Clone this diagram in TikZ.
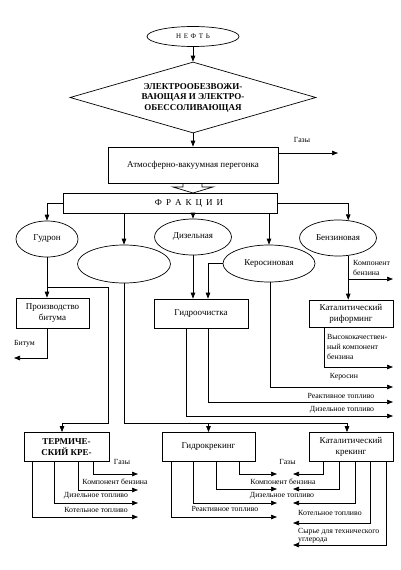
\documentclass[tikz,border=0pt]{standalone}
\usepackage{fontspec}
\setmainfont{Liberation Serif}
\usetikzlibrary{shapes.geometric,arrows.meta}
\begin{document}
\begin{tikzpicture}[x=1pt,y=-1pt,
  every node/.style={inner sep=0pt, font=\fontsize{9}{11}\selectfont},
  box/.style={draw, rectangle, line width=0.7pt, align=center},
  oval/.style={draw, ellipse, line width=0.7pt},
  conn/.style={line width=0.7pt},
  arr/.style={conn, -{Triangle[length=6pt,width=4.5pt]}},
  lbl/.style={font=\fontsize{7.8}{10}\selectfont, align=left},
  bold/.style={font=\bfseries\fontsize{9}{10.5}\selectfont},
]
\useasboundingbox (0,0) rectangle (400,570);
\fill[white] (0,0) rectangle (400,570);

% top
\node[oval, minimum width=92pt, minimum height=20pt, font=\fontsize{7}{8}\selectfont] (neft) at (193,36.5) {Н\hspace{2.6pt}Е\hspace{2.6pt}Ф\hspace{2.6pt}Т\hspace{2.6pt}Ь};
\node[draw, diamond, aspect=3.46, minimum width=246pt, minimum height=71pt, line width=0.7pt, align=center, bold] (dia) at (193,97.5) {ЭЛЕКТРООБЕЗВОЖИ-\\ВАЮЩАЯ И ЭЛЕКТРО-\\ОБЕССОЛИВАЮЩАЯ};
\draw[arr] (neft.south) -- (dia.north);

\node[box, minimum width=170pt, minimum height=36pt] (atm) at (193,165) {Атмосферно-вакуумная перегонка};
\draw[arr] (dia.south) -- (atm.north);
\coordinate (oGas) at (338,153);
\draw[arr] (atm.east |- oGas) -- (oGas);
\node[lbl] (lGas) at (302,140) {Газы};

% hollow arrow
\draw[conn] (183,183) -- (183,187) -- (173,187) -- (193,193) -- (213,187) -- (202,187) -- (202,183);

\node[box, minimum width=214pt, minimum height=20pt] (fr) at (170,203) {};
\node (frt) at (189,203) {Ф\hspace{4pt}Р\hspace{4pt}А\hspace{4pt}К\hspace{4pt}Ц\hspace{4pt}И\hspace{4pt}И};

% fractions
\node[oval, minimum width=62pt, minimum height=36pt] (gud) at (47,239) {Гудрон};
\node[oval, minimum width=77pt, minimum height=36pt] (diz) at (193,237) {Дизельная};
\node[oval, minimum width=77pt, minimum height=36pt] (benz) at (338,238) {Бензиновая};
\node[oval, minimum width=93pt, minimum height=38pt] (emp) at (124,264) {};
\node[oval, minimum width=92pt, minimum height=37pt] (ker) at (269,263.5) {Керосиновая};

\draw[arr] (fr.west) -| (gud.north);
\draw[arr] (fr.east) -| (benz.60);
\draw[arr] (emp.north |- fr.south) -- (emp.north);
\draw[arr] (diz.north |- fr.south) -- (diz.north);
\draw[arr] (ker.north |- fr.south) -- (ker.north);

% second level boxes
\node[box, minimum width=73pt, minimum height=30pt] (bit) at (52.5,313) {Производство\\битума};
\node[box, minimum width=94pt, minimum height=29pt] (gid) at (201,313.5) {Гидроочистка};
\node[box, minimum width=84pt, minimum height=27pt] (kr) at (351,313.5) {Каталитический\\риформинг};

\draw[arr] (gud.south) -- (gud.south |- bit.north);
\coordinate (oBit) at (14,358);
\draw[arr] (bit.south -| gud.south) |- (oBit);
\node[lbl] (lBit) at (24.5,344) {Битум};

\draw[arr] (diz.south) -- (diz.south |- gid.north);
\coordinate (kx) at (208,0);
\draw[arr] (ker.west) -| (gid.north -| kx);

\draw[arr] (benz.-60) -- (benz.-60 |- kr.north);
\coordinate (oBenz) at (393,279);
\draw[arr] (benz.-60 |- oBenz) -- (oBenz);
\node[lbl, anchor=west] (lBenz) at (353,267.5) {Компонент\\бензина};

\coordinate (oVys) at (393,367);
\draw[arr] (kr.south -| 324,0) |- (oVys);
\node[lbl, anchor=west] (lVys) at (327,347) {Высококачествен-\\ный компонент\\бензина};

\coordinate (oKer) at (393,387);
\draw[arr] (ker.south -| 270,0) |- (oKer);
\node[lbl] (lKer) at (344,377) {Керосин};

\coordinate (oRea) at (393,402);
\draw[arr] (gid.south -| kx) |- (oRea);
\node[lbl] (lRea) at (341,396) {Реактивное топливо};

\coordinate (oDiz) at (393,416);
\draw[arr] (gid.south -| 186,0) |- (oDiz);
\node[lbl] (lDiz) at (342,409.5) {Дизельное топливо};

% third level
\node[box, minimum width=85pt, minimum height=29pt, bold] (term) at (66.5,447) {ТЕРМИЧЕ-\\СКИЙ КРЕ-};
\node[box, minimum width=93pt, minimum height=29pt] (gk) at (208.5,447) {Гидрокрекинг};
\node[box, minimum width=84pt, minimum height=29pt] (kk) at (351,447) {Каталитический\\крекинг};

\coordinate (g1) at (47,287);
\coordinate (g2) at (108,423);
\draw[arr] (g1) -| (g2) -| (term.north -| 62,0);
\coordinate (e1) at (124,423);
\draw[arr] (emp.south) -- (e1) -| (kk.north -| 347,0);
\draw[arr] (gk.north |- e1) -- (gk.north);

% termal outputs
\foreach \x/\y [count=\i] in {93/474, 78/490, 54/503, 32/517} {
  \coordinate (t\i) at (138,\y);
  \draw[arr] (term.south -| \x,0) |- (t\i);
}
\node[lbl] (tl1) at (122,462) {Газы};
\node[lbl] (tl2) at (115,482) {Компонент бензина};
\node[lbl] (tl3) at (96,496) {Дизельное топливо};
\node[lbl] (tl4) at (96,510) {Котельное топливо};

% hydrocracking outputs
\foreach \x/\y [count=\i] in {239/474, 216/489, 193/503, 171/517} {
  \coordinate (h\i) at (277,\y);
  \draw[arr] (gk.south -| \x,0) |- (h\i);
}
% catalytic cracking outputs
\foreach \x/\y [count=\i] in {323/474, 339/489, 355/503, 370/523, 386/545} {
  \coordinate (c\i) at (293,\y);
  \draw[arr] (kk.south -| \x,0) |- (c\i);
}
\node[lbl] (ml1) at (287.5,462) {Газы};
\node[lbl] (ml2) at (283,482) {Компонент бензина};
\node[lbl] (ml3) at (282,496) {Дизельное топливо};
\node[lbl] (ml4) at (225,509) {Реактивное топливо};
\node[lbl, anchor=west] (ml5) at (298,513) {Котельное топливо};
\node[lbl, anchor=west, font=\fontsize{7.8}{8}\selectfont] (ml6) at (298,535.5) {Сырье для технического\\углерода};
\end{tikzpicture}
\end{document}
